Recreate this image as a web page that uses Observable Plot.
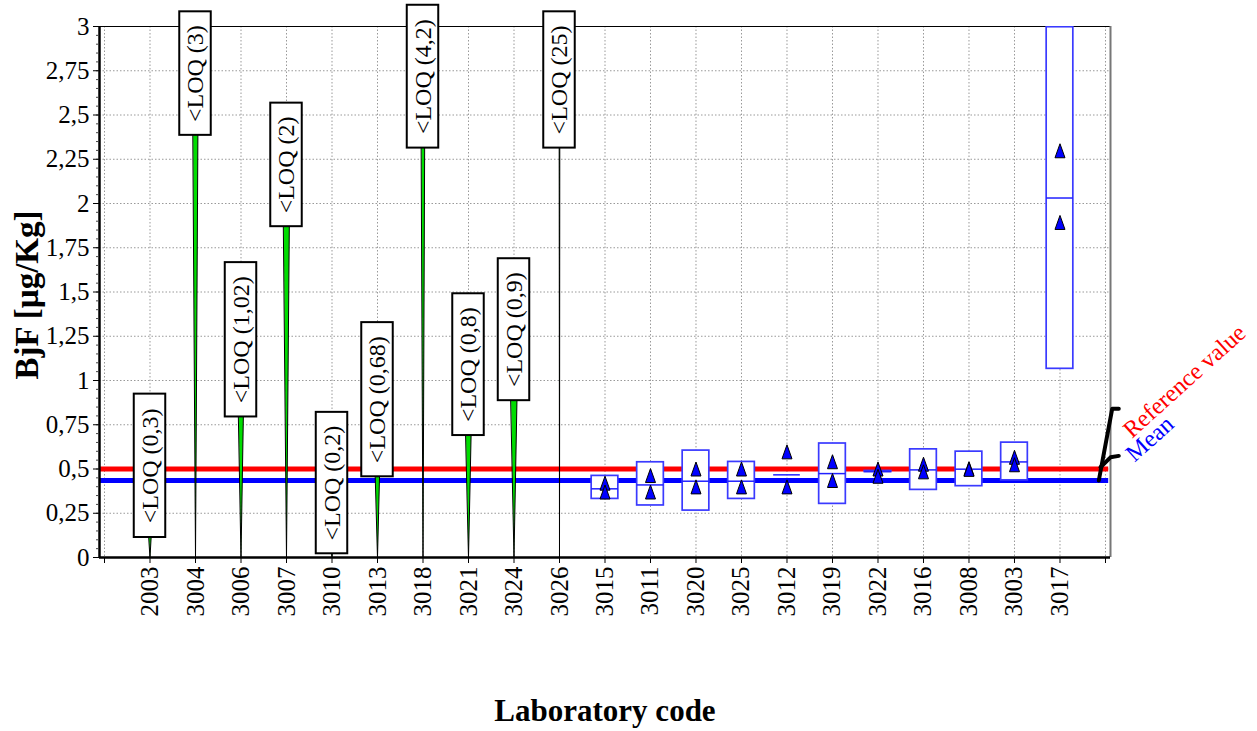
<!DOCTYPE html>
<html><head><meta charset="utf-8">
<script src="https://cdn.jsdelivr.net/npm/d3@7"></script>
<script src="https://cdn.jsdelivr.net/npm/@observablehq/plot@0.6"></script>
<style>body{margin:0;background:#fff} svg{display:block}</style>
</head><body><div id="chart"></div>
<script>
// ---- data ----
const codes = ["2003","3004","3006","3007","3010","3013","3018","3021","3024","3026",
  "3015","3011","3020","3025","3012","3019","3022","3016","3008","3003","3017"];

const loqLabs   = ["2003","3004","3006","3007","3010","3013","3018","3021","3024","3026"];
const loqValues = [0.3, 3, 1.02, 2, 0.2, 0.68, 4.2, 0.8, 0.9, 25];
const loqText   = ["<LOQ (0,3)","<LOQ (3)","<LOQ (1,02)","<LOQ (2)","<LOQ (0,2)",
  "<LOQ (0,68)","<LOQ (4,2)","<LOQ (0,8)","<LOQ (0,9)","<LOQ (25)"];
const loqLabelLow  = [0.113, 2.385, 0.794, 1.869, 0.021, 0.456, 2.313, 0.689, 0.886, 2.313];
const loqLabelHigh = [0.923, 3.083, 1.666, 2.567, 0.820, 1.327, 3.120, 1.490, 1.688, 3.083];

const repLabs = ["3015","3011","3020","3025","3012","3019","3022","3016","3008","3003","3017"];
const rep1    = [0.420, 0.463, 0.500, 0.500, 0.597, 0.541, 0.500, 0.527, 0.502, 0.566, 2.298];
const rep2    = [0.370, 0.370, 0.399, 0.399, 0.399, 0.435, 0.459, 0.484, 0.498, 0.524, 1.893];
const boxLow  = [0.331, 0.294, 0.265, 0.331, null, 0.303, 0.483, 0.382, 0.403, 0.436, 1.066];
const boxMid  = [0.388, 0.410, 0.431, 0.431, 0.467, 0.474, 0.486, 0.495, 0.499, 0.540, 2.031];
const boxHigh = [0.461, 0.538, 0.604, 0.540, null, 0.644, 0.489, 0.611, 0.598, 0.649, 2.996];

const referenceValue = 0.5;
const meanValue = 0.435;

const yTicks = [0, 0.25, 0.5, 0.75, 1, 1.25, 1.5, 1.75, 2, 2.25, 2.5, 2.75, 3];
const yMinor = d3.range(0, 3.0001, 0.05).map(v => +v.toFixed(2));
const xTicks = d3.range(-1, 22);

// ---- derived tables ----
const idx = c => codes.indexOf(c);
const loq = loqLabs.map((c, k) => ({i: idx(c), v: loqValues[k], text: loqText[k], lo: loqLabelLow[k], hi: loqLabelHigh[k]}));
const spikeHalf = 0.066;
const spikes = loq.flatMap(d => [
  {z: d.i, x: d.i - spikeHalf, y: d.v},
  {z: d.i, x: d.i + spikeHalf, y: d.v},
  {z: d.i, x: d.i, y: 0}
]);
const boxes = repLabs.map((c, k) => ({i: idx(c), lo: boxLow[k], mid: boxMid[k], hi: boxHigh[k]}));
const reps = repLabs.flatMap((c, k) => [{i: idx(c), v: rep1[k]}, {i: idx(c), v: rep2[k]}]);

const xDomain = [-1.11, 21.11];
const serif = "'Liberation Serif', 'Times New Roman', Times, serif";

const tallTriangle = {
  draw(context, size) {
    const r = Math.sqrt(size / Math.PI);
    const h = r * 2.8;
    context.moveTo(0, -h / 2);
    context.lineTo(r, h / 2);
    context.lineTo(-r, h / 2);
    context.closePath();
  }
};

const meanBracket = [{x: 20.853, y: meanValue}, {x: 21.147, y: 0.84}, {x: 21.292, y: 0.84}];
const refBracket  = [{x: 20.89, y: 0.51}, {x: 21.11, y: 0.566}, {x: 21.292, y: 0.574}];

const chart = Plot.plot({
  width: 1257,
  height: 731,
  marginTop: 26,
  marginBottom: 174,
  marginLeft: 99,
  marginRight: 147,
  style: {fontFamily: serif, fontSize: "24px", background: "white", overflow: "visible"},
  x: {type: "linear", domain: xDomain, label: null},
  y: {type: "linear", domain: [0, 3], label: null},
  marks: [
    Plot.gridX(xTicks, {stroke: "#999", strokeOpacity: 1, strokeDasharray: "1.5,2"}),
    Plot.gridY(yTicks, {stroke: "#999", strokeOpacity: 1, strokeDasharray: "1.5,2"}),
    Plot.ruleY([3], {stroke: "black", strokeWidth: 1}),
    Plot.ruleX([xDomain[1]], {stroke: "#777", strokeWidth: 2}),
    Plot.ruleY([referenceValue], {x1: xDomain[0], x2: 21.07, stroke: "#ff0000", strokeWidth: 5}),
    Plot.ruleY([meanValue], {x1: xDomain[0], x2: 21.07, stroke: "#0000ff", strokeWidth: 5}),
    Plot.line(spikes, {x: "x", y: "y", z: "z", curve: "linear-closed", fill: "#00dd00", stroke: "black", strokeWidth: 1, clip: true}),
    Plot.rect(loq, {x1: d => d.i - 0.346, x2: d => d.i + 0.346, y1: "lo", y2: "hi", fill: "white", stroke: "black", strokeWidth: 2}),
    Plot.text(loq, {x: "i", y: d => (d.lo + d.hi) / 2, text: "text", rotate: -90, fontSize: 24, fill: "black", lineAnchor: "middle"}),
    Plot.rect(boxes.filter(d => d.lo != null), {x1: d => d.i - 0.293, x2: d => d.i + 0.293, y1: "lo", y2: "hi", fill: "white", stroke: "#3a3aff", strokeWidth: 1.7, clip: true}),
    Plot.ruleY(boxes, {y: "mid", x1: d => d.i - 0.293, x2: d => d.i + 0.293, stroke: "#2020ff", strokeWidth: 1.5}),
    Plot.dot(reps, {x: "i", y: "v", symbol: tallTriangle, r: 5, fill: "#0000ff", stroke: "black", strokeWidth: 1}),
    Plot.ruleX([xDomain[0]], {stroke: "black", strokeWidth: 2.5}),
    Plot.ruleY([0], {stroke: "black", strokeWidth: 2.5}),
    Plot.axisY(yMinor, {tickSize: 3, tickFormat: () => "", label: null, stroke: "#444"}),
    Plot.axisY(yTicks, {tickSize: 6, tickPadding: 4, fontSize: 25, tickFormat: d => String(d).replace(".", ","), label: null, stroke: "black"}),
    Plot.axisX(xTicks, {tickSize: 6, tickPadding: 3, tickRotate: -90, fontSize: 25, tickFormat: i => codes[i] ?? "", label: null, stroke: "black"}),
    Plot.line(meanBracket, {x: "x", y: "y", stroke: "black", strokeWidth: 4}),
    Plot.line(refBracket, {x: "x", y: "y", stroke: "black", strokeWidth: 4}),
    Plot.text(["Reference value"], {x: 21.58, y: 0.67, text: d => d, rotate: -42, textAnchor: "start", lineAnchor: "bottom", fill: "#ff0000", fontSize: 24}),
    Plot.text(["Mean"], {x: 21.64, y: 0.535, text: d => d, rotate: -42, textAnchor: "start", lineAnchor: "bottom", fill: "#0000ff", fontSize: 24}),
    Plot.text(["BjF [µg/Kg]"], {frameAnchor: "left", dx: -72, dy: 3, text: d => d, rotate: -90, textAnchor: "middle", fontWeight: "bold", fontSize: 33, lineAnchor: "middle", fill: "black"}),
    Plot.text(["Laboratory code"], {frameAnchor: "bottom", dy: 154, text: d => d, textAnchor: "middle", fontWeight: "bold", fontSize: 31, lineAnchor: "middle", fill: "black"})
  ]
});
document.getElementById("chart").appendChild(chart);
</script>
</body></html>
